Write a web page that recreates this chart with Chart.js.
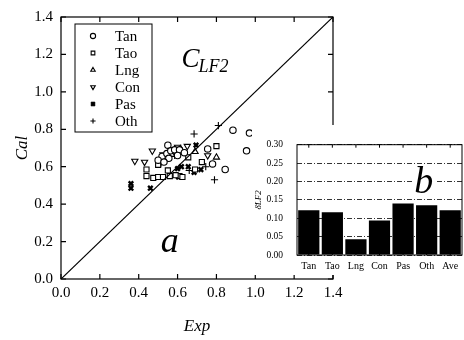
<!DOCTYPE html>
<html>
<head>
<meta charset="utf-8">
<script src="https://cdn.jsdelivr.net/npm/chart.js@4.4.0/dist/chart.umd.min.js"></script>
<style>
  html, body { margin: 0; padding: 0; background: #fff; }
  #wrap { position: relative; width: 464px; height: 340px; }
  #main { position: absolute; left: 0; top: 0; }
  #inset { position: absolute; left: 252px; top: 125px; background: #fff; }
</style>
</head>
<body>
<div id="wrap">
  <canvas id="main" width="464" height="340"></canvas>
  <canvas id="inset" width="212" height="150"></canvas>
</div>
<script>
// main scatter: [Exp, Cal] pairs per series
const tan = [[0.885,0.795],[0.97,0.78],[0.955,0.685],[0.845,0.585],[0.755,0.695],[0.78,0.615],
  [0.55,0.715],[0.52,0.655],[0.545,0.67],[0.565,0.685],[0.585,0.69],[0.61,0.69],[0.555,0.645],
  [0.6,0.66],[0.5,0.635],[0.635,0.675],[0.53,0.625]];
const tao = [[0.44,0.585],[0.44,0.55],[0.475,0.54],[0.5,0.545],[0.525,0.545],[0.55,0.58],[0.56,0.55],
  [0.61,0.55],[0.625,0.545],[0.655,0.65],[0.69,0.585],[0.725,0.625],[0.8,0.71],[0.59,0.555],[0.5,0.61]];
const lng = [[0.8,0.65],[0.69,0.68],[0.615,0.695],[0.57,0.665]];
const con = [[0.38,0.63],[0.43,0.625],[0.47,0.685],[0.65,0.71],[0.525,0.665],[0.6,0.705],[0.755,0.66]];
const pas = [[0.36,0.51],[0.36,0.485],[0.46,0.485],[0.6,0.59],[0.655,0.6],[0.685,0.57],[0.695,0.715],
  [0.605,0.545],[0.62,0.6],[0.72,0.585]];
const oth = [[0.685,0.775],[0.81,0.82],[0.79,0.53],[0.515,0.62],[0.745,0.6],[0.585,0.66],[0.66,0.58]];
const axisTicks = [0, 0.2, 0.4, 0.6, 0.8, 1.0, 1.2, 1.4];

// inset bar chart
const insetLabels = ['Tan', 'Tao', 'Lng', 'Con', 'Pas', 'Oth', 'Ave'];
const insetValues = [0.122, 0.116, 0.043, 0.094, 0.140, 0.135, 0.122];
const insetTicks = [0, 0.05, 0.10, 0.15, 0.20, 0.25, 0.30];

const serif = 'Liberation Serif';
const toXY = arr => arr.map(p => ({ x: p[0], y: p[1] }));

// box round the plot area, ticks pointing in
const framePlugin = {
  id: 'frame',
  afterDatasetsDraw(chart, args, opts) {
    const { ctx, chartArea: a, scales } = chart;
    const len = opts.tick;
    ctx.save();
    ctx.strokeStyle = '#000';
    ctx.lineWidth = opts.width;
    ctx.strokeRect(a.left, a.top, a.right - a.left, a.bottom - a.top);
    ctx.beginPath();
    if (opts.xTicks) {
      scales.x.ticks.forEach((t, i) => {
        const px = scales.x.getPixelForTick(i);
        ctx.moveTo(px, a.bottom); ctx.lineTo(px, a.bottom - len);
        ctx.moveTo(px, a.top); ctx.lineTo(px, a.top + len);
      });
    }
    if (opts.yTicks) {
      scales.y.ticks.forEach((t, i) => {
        const py = scales.y.getPixelForTick(i);
        ctx.moveTo(a.left, py); ctx.lineTo(a.left + len, py);
        ctx.moveTo(a.right, py); ctx.lineTo(a.right - len, py);
      });
    }
    ctx.stroke();
    ctx.restore();
  }
};

const boxLegend = {
  id: 'boxLegend',
  afterDraw(chart) {
    const { ctx, chartArea: a } = chart;
    const sets = chart.data.datasets.filter(d => !d.isDiag);
    const left = a.left + 14, top = a.top + 7, w = 77, rowH = 17;
    const h = sets.length * rowH + 6;
    ctx.save();
    ctx.fillStyle = '#fff';
    ctx.fillRect(left, top, w, h);
    ctx.strokeStyle = '#000';
    ctx.lineWidth = 1;
    ctx.strokeRect(left, top, w, h);
    ctx.font = '15px "' + serif + '"';
    ctx.textBaseline = 'middle';
    sets.forEach((d, i) => {
      const yy = top + 12 + i * rowH;
      ctx.strokeStyle = '#000';
      ctx.fillStyle = d.pointBackgroundColor;
      ctx.lineWidth = d.pointBorderWidth;
      Chart.helpers.drawPoint(ctx, {
        pointStyle: d.pointStyle, rotation: d.pointRotation || 0,
        radius: 2.6, borderWidth: d.pointBorderWidth
      }, left + 18, yy);
      ctx.fillStyle = '#000';
      ctx.fillText(d.label, left + 40, yy + 1);
    });
    ctx.restore();
  }
};

const mainText = {
  id: 'mainText',
  afterDraw(chart) {
    const { ctx, scales: { x, y } } = chart;
    ctx.save();
    ctx.fillStyle = '#000';
    ctx.textAlign = 'left';
    ctx.textBaseline = 'alphabetic';
    const cx = x.getPixelForValue(0.62), cy = y.getPixelForValue(1.135);
    ctx.font = 'italic 27px "' + serif + '"';
    ctx.fillText('C', cx, cy);
    const w = ctx.measureText('C').width;
    ctx.font = 'italic 18px "' + serif + '"';
    ctx.fillText('LF2', cx + w - 1, cy + 5);
    ctx.font = 'italic 36px "' + serif + '"';
    ctx.textAlign = 'center';
    ctx.fillText('a', x.getPixelForValue(0.56), y.getPixelForValue(0.142));
    ctx.restore();
  }
};

const insetText = {
  id: 'insetText',
  afterDraw(chart) {
    const { ctx, scales: { x, y } } = chart;
    ctx.save();
    ctx.fillStyle = '#fff';
    ctx.font = 'italic 38px "' + serif + '"';
    ctx.textAlign = 'center';
    ctx.textBaseline = 'alphabetic';
    const bx = x.getPixelForValue(4.88), by = y.getPixelForValue(0.1675);
    const bw = ctx.measureText('b').width;
    ctx.fillRect(bx - bw / 2 - 2, by - 28, bw + 4, 30);
    ctx.fillStyle = '#000';
    ctx.fillText('b', bx, by);
    ctx.restore();
  }
};

const pointCommon = { pointBorderColor: '#000', pointBackgroundColor: '#fff', pointBorderWidth: 1.1, pointRadius: 3.2 };

new Chart(document.getElementById('main').getContext('2d'), {
  type: 'scatter',
  data: {
    datasets: [
      { label: 'diag', isDiag: true, data: [{ x: axisTicks[0], y: axisTicks[0] }, { x: axisTicks[7], y: axisTicks[7] }],
        showLine: true, pointRadius: 0, borderColor: '#000', borderWidth: 1.2 },
      Object.assign({ label: 'Tan', data: toXY(tan), pointStyle: 'circle' }, pointCommon),
      Object.assign({ label: 'Tao', data: toXY(tao), pointStyle: 'rect' }, pointCommon, { pointRadius: 3.6 }),
      Object.assign({ label: 'Lng', data: toXY(lng), pointStyle: 'triangle' }, pointCommon, { pointRadius: 3.6 }),
      Object.assign({ label: 'Con', data: toXY(con), pointStyle: 'triangle', pointRotation: 180 }, pointCommon, { pointRadius: 3.6 }),
      Object.assign({ label: 'Pas', data: toXY(pas), pointStyle: 'crossRot' }, pointCommon, { pointBorderWidth: 2.4, pointRadius: 3.2 }),
      Object.assign({ label: 'Oth', data: toXY(oth), pointStyle: 'cross' }, pointCommon, { pointRadius: 3.6 })
    ]
  },
  options: {
    responsive: false,
    animation: false,
    events: [],
    layout: { padding: { top: 13, right: 131, left: 0, bottom: 0 } },
    plugins: {
      legend: { display: false },
      tooltip: { enabled: false },
      frame: { width: 1.2, tick: 5, xTicks: true, yTicks: true }
    },
    scales: {
      x: {
        type: 'linear', min: 0, max: 1.4,
        afterBuildTicks: s => { s.ticks = axisTicks.map(v => ({ value: v })); },
        afterFit: s => { s.height = 61; },
        grid: { display: false, drawTicks: false },
        border: { display: false },
        ticks: { color: '#000', font: { family: serif, size: 15 }, padding: 5, maxRotation: 0, autoSkip: false,
          callback: v => v.toFixed(1) },
        title: { display: true, text: 'Exp', color: '#000', font: { family: serif, size: 17, style: 'italic' },
          padding: { top: 0, bottom: 3 } }
      },
      y: {
        type: 'linear', min: 0, max: 1.4,
        afterBuildTicks: s => { s.ticks = axisTicks.map(v => ({ value: v })); },
        afterFit: s => { s.width = 61; },
        grid: { display: false, drawTicks: false },
        border: { display: false },
        ticks: { color: '#000', font: { family: serif, size: 15 }, padding: 8, autoSkip: false,
          callback: v => v.toFixed(1) },
        title: { display: true, text: 'Cal', color: '#000', font: { family: serif, size: 17, style: 'italic' },
          padding: { top: 12, bottom: 0 } }
      }
    }
  },
  plugins: [framePlugin, boxLegend, mainText]
});

new Chart(document.getElementById('inset').getContext('2d'), {
  type: 'bar',
  data: {
    labels: insetLabels,
    datasets: [{ data: insetValues, backgroundColor: '#000', barPercentage: 0.9, categoryPercentage: 1 }]
  },
  options: {
    responsive: false,
    animation: false,
    events: [],
    layout: { padding: { top: 10, right: 2, left: 0, bottom: 0 } },
    plugins: {
      legend: { display: false },
      tooltip: { enabled: false },
      frame: { width: 1, tick: 3, xTicks: true, yTicks: false }
    },
    scales: {
      x: {
        afterFit: s => { s.height = 20; },
        grid: { display: false, drawTicks: false },
        border: { display: false },
        ticks: { color: '#000', font: { family: serif, size: 10 }, padding: 5, maxRotation: 0, autoSkip: false }
      },
      y: {
        min: 0, max: 0.30,
        afterBuildTicks: s => { s.ticks = insetTicks.map(v => ({ value: v })); },
        afterFit: s => { s.width = 45; },
        grid: { color: '#000', lineWidth: 0.8, drawTicks: false },
        border: { display: false, dash: [5, 2, 1, 2] },
        ticks: { color: '#000', font: { family: serif, size: 9.5 }, padding: 14, autoSkip: false,
          callback: v => v.toFixed(2) },
        title: { display: true, text: 'δ̄LF2', color: '#000', font: { family: serif, size: 9, style: 'italic' },
          padding: { top: 1, bottom: 0 } }
      }
    }
  },
  plugins: [framePlugin, insetText]
});
</script>
</body>
</html>
